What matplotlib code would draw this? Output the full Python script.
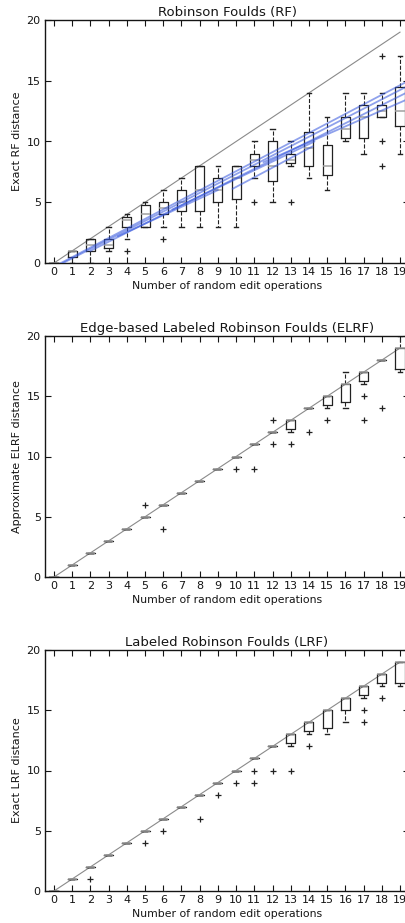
import matplotlib
matplotlib.use("Agg")
import matplotlib.pyplot as plt

labels = list(range(20))

# ---- Robinson Foulds (RF) ----
rf_q1  = [0, 0.5, 1, 1.25, 3, 3, 4, 4.25, 4.25, 5, 5.25, 8, 6.75, 8.25, 8, 7.25, 10.25, 10.25, 12, 11.25]
rf_med = [0, 1, 1.5, 1.5, 3.5, 4, 4.5, 5, 6, 6, 7, 8.5, 8, 8.5, 9.5, 8, 11, 12, 12.5, 12.5]
rf_q3  = [0, 1, 2, 2, 3.75, 4.75, 5, 6, 8, 7, 8, 9, 10, 9, 10.75, 9.75, 12, 13, 13, 14.5]
rf_lo  = [0, 0, 0, 1, 2, 3, 3, 3, 3, 3, 3, 7, 5, 8, 7, 6, 10, 9, 12, 9]
rf_hi  = [0, 1, 2, 3, 4, 5, 6, 7, 8, 8, 8, 10, 11, 10, 14, 12, 14, 14, 14, 17]
rf_fl  = [[], [], [], [], [1], [], [2], [], [], [], [], [5], [], [5], [], [], [], [], [17, 10, 8], []]

# ---- Edge-based Labeled Robinson Foulds (ELRF) ----
elrf_q1  = [0, 1, 2, 3, 4, 5, 6, 7, 8, 9, 10, 11, 12, 12.25, 14, 14.25, 14.5, 16.25, 18, 17.25]
elrf_med = [0, 1, 2, 3, 4, 5, 6, 7, 8, 9, 10, 11, 12, 13, 14, 15, 16, 17, 18, 19]
elrf_q3  = [0, 1, 2, 3, 4, 5, 6, 7, 8, 9, 10, 11, 12, 13, 14, 15, 16, 17, 18, 19]
elrf_lo  = [0, 1, 2, 3, 4, 5, 6, 7, 8, 9, 10, 11, 12, 12, 14, 14, 14, 16, 18, 17]
elrf_hi  = [0, 1, 2, 3, 4, 5, 6, 7, 8, 9, 10, 11, 12, 13, 14, 15, 17, 17, 18, 20]
elrf_fl  = [[], [], [], [], [], [6], [4], [], [], [], [9], [9], [13, 11], [11], [12], [13], [], [15, 13], [14], []]

# ---- Labeled Robinson Foulds (LRF) ----
lrf_q1  = [0, 1, 2, 3, 4, 5, 6, 7, 8, 9, 10, 11, 12, 12.25, 13.25, 13.5, 15, 16.25, 17.25, 17.25]
lrf_med = [0, 1, 2, 3, 4, 5, 6, 7, 8, 9, 10, 11, 12, 13, 14, 15, 16, 17, 18, 19]
lrf_q3  = [0, 1, 2, 3, 4, 5, 6, 7, 8, 9, 10, 11, 12, 13, 14, 15, 16, 17, 18, 19]
lrf_lo  = [0, 1, 2, 3, 4, 5, 6, 7, 8, 9, 10, 11, 12, 12, 13, 13, 14, 16, 17, 17]
lrf_hi  = [0, 1, 2, 3, 4, 5, 6, 7, 8, 9, 10, 11, 12, 13, 14, 15, 16, 17, 18, 19]
lrf_fl  = [[], [], [1], [], [], [4], [5], [], [6], [8], [9], [10, 9], [10], [10], [12], [], [], [15, 14], [16], []]

# hand-drawn blue pen strokes on the RF panel (x0, y0, x1, y1)
pen_x0 = [0.0, 0.5, 2.0, 6.5, 9.8, 11.5, 3.5]
pen_y0 = [-0.3, 0.0, 1.0, 4.4, 6.1, 8.3, 2.2]
pen_x1 = [19.6, 19.6, 19.6, 14.3, 14.2, 19.6, 9.0]
pen_y1 = [15.1, 14.7, 14.2, 10.0, 9.6, 13.6, 6.0]

panels = [
    ("Robinson Foulds (RF)", "Exact RF distance", rf_q1, rf_med, rf_q3, rf_lo, rf_hi, rf_fl),
    ("Edge-based Labeled Robinson Foulds (ELRF)", "Approximate ELRF distance",
     elrf_q1, elrf_med, elrf_q3, elrf_lo, elrf_hi, elrf_fl),
    ("Labeled Robinson Foulds (LRF)", "Exact LRF distance", lrf_q1, lrf_med, lrf_q3, lrf_lo, lrf_hi, lrf_fl),
]

plt.rcParams['font.family'] = ['DejaVu Sans']
fig = plt.figure(figsize=(4.06, 9.23), dpi=100)

W, H = 406.0, 923.0
left_px, right_px = 44.9, 409.1
rects = [(20, 263), (336, 577), (650, 891)]
ink = '#151515'

for (title, ylab, q1, med, q3, lo, hi, fl), (top, bot) in zip(panels, rects):
    ax = fig.add_axes([left_px / W, (H - bot) / H, (right_px - left_px) / W, (bot - top) / H])
    stats = []
    for i in range(len(labels)):
        stats.append(dict(q1=q1[i], med=med[i], q3=q3[i], whislo=lo[i], whishi=hi[i],
                          fliers=fl[i], label=str(labels[i])))
    ax.plot([labels[0], labels[-1]], [labels[0], labels[-1]], color='#8a8a8a', lw=0.8, zorder=1)
    ax.bxp(stats, positions=labels, widths=0.5, showfliers=True,
           boxprops=dict(color='#222222', lw=0.9),
           medianprops=dict(color='#a0a0a0', lw=1.1),
           whiskerprops=dict(color='#222222', lw=0.8, linestyle='--'),
           capprops=dict(color='#222222', lw=1.0),
           flierprops=dict(marker='+', markeredgecolor='#222222', markersize=5, markeredgewidth=0.9))
    if title.startswith("Robinson"):
        for a, b, c, d in zip(pen_x0, pen_y0, pen_x1, pen_y1):
            ax.plot([a, c], [b, d], color='#3355dd', alpha=0.55, lw=1.3, zorder=5,
                    solid_capstyle='round')
    ax.set_xlim(-0.5, 19.5)
    ax.set_ylim(0, 20)
    ax.set_xticks(labels)
    ax.set_xticklabels([str(v) for v in labels])
    ax.set_yticks([0, 5, 10, 15, 20])
    ax.tick_params(direction='in', top=True, right=True, length=4, width=0.8,
                   labelsize=8, pad=3, colors=ink)
    for s in ax.spines.values():
        s.set_linewidth(1.0)
        s.set_color(ink)
    ax.set_title(title, fontsize=9.5, pad=3, color=ink)
    ax.set_xlabel("Number of random edit operations", fontsize=7.8, labelpad=3, color=ink)
    ax.set_ylabel(ylab, fontsize=8, labelpad=3, color=ink)

fig.savefig("out.png", dpi=100)
